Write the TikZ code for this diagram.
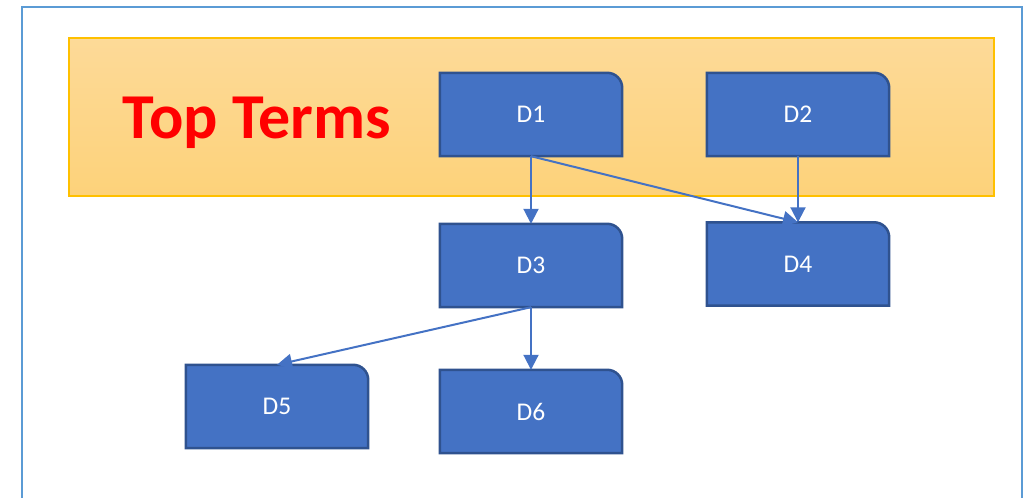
\documentclass[tikz,border=0pt]{standalone}
\usepackage{fontspec}
\setmainfont{Carlito}
\usetikzlibrary{arrows.meta,backgrounds}
\definecolor{frameblue}{HTML}{5B9BD5}
\definecolor{bandtop}{HTML}{FDDA98}
\definecolor{bandbot}{HTML}{FDD27A}
\definecolor{bandline}{HTML}{FFC000}
\definecolor{boxfill}{HTML}{4472C4}
\definecolor{boxline}{HTML}{2F528F}
\tikzset{
  blk/.style={minimum width=182pt, minimum height=83pt, inner sep=0pt,
    text=white, font=\fontsize{25.5}{30}\selectfont},
  blkframe/.style={fill=boxfill, draw=boxline, line width=2.5pt, line join=miter},
  link/.style={draw=boxfill, line width=2pt,
    -{Triangle[width=15pt,length=15pt]}},
}
% box with a rounded top-right corner drawn behind the named node
\newcommand{\blkshape}[1]{%
  \fill[blkframe] (#1.south west) -- (#1.north west)
    -- ([xshift=-15pt]#1.north east)
    arc[start angle=90, end angle=0, radius=15pt]
    -- (#1.south east) -- cycle;}
\begin{document}
\begin{tikzpicture}[x=1pt,y=1pt]
\useasboundingbox (0,0) rectangle (1023,498);
\begin{scope}
  \clip (0,0) rectangle (1023,498);
  \draw[frameblue, line width=2pt] (22,-5) -- (22,491) -- (1022,491) -- (1022,-5);
\end{scope}

\node[blk] (d1) at (531,383.5) {D1};
\node[blk] (d2) at (798,383.5) {D2};
\node[blk] (d3) at (531,232.5) {D3};
\node[blk] (d4) at (798,234) {D4};
\node[blk] (d5) at (277,91.5) {D5};
\node[blk] (d6) at (531,86.5) {D6};

\begin{scope}[on background layer]
  \shade[top color=bandtop, bottom color=bandbot, draw=bandline, line width=1.5pt]
    (69,460) rectangle (994,302);
  \foreach \n in {d1,d2,d3,d4,d5,d6} {\blkshape{\n}}
\end{scope}

\node[anchor=base, text=red, font=\bfseries\fontsize{64}{72}\selectfont]
  (title) at (257,359) {Top Terms};

\draw[link] (d1.south) -- (d3.north);
\draw[link] (d1.south) -- (d4.north);
\draw[link] (d2.south) -- (d4.north);
\draw[link] (d3.south) -- (d5.north);
\draw[link] (d3.south) -- (d6.north);
\end{tikzpicture}
\end{document}
